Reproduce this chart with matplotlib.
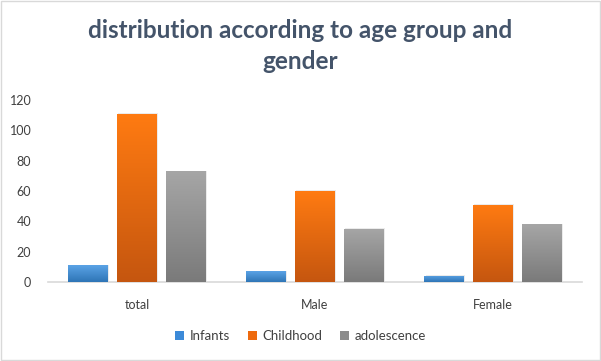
import matplotlib
matplotlib.use("Agg")
import matplotlib.pyplot as plt
import numpy as np
from matplotlib.colors import LinearSegmentedColormap
from matplotlib.patches import Rectangle

categories = ["total", "Male", "Female"]
series_names = ["Infants", "Childhood", "adolescence"]
infants = [11, 7, 4]
childhood = [111, 60, 51]
adolescence = [73, 35, 38]
yticks = [0, 20, 40, 60, 80, 100, 120]

values = [infants, childhood, adolescence]
grads = [("#5BA3E6", "#2E75B6"), ("#FF7B12", "#C5560F"), ("#A6A6A6", "#7A7A7A")]
legend_colors = ["#3C8AD8", "#EE6A0E", "#8C8C8C"]

fig = plt.figure(figsize=(6.01, 3.61), dpi=100)
ax = fig.add_axes([48/601, 1-282/361, (582-48)/601, 182/361])

x = np.arange(len(categories))
offsets = [-0.275, 0.0, 0.275]
width = 0.22
handles = []
for i, (vals, (ctop, cbot)) in enumerate(zip(values, grads)):
    bars = ax.bar(x + offsets[i], vals, width, color="none", edgecolor="none", zorder=3)
    cmap = LinearSegmentedColormap.from_list("g%d" % i, [cbot, ctop])
    for b in bars:
        bx, by, bw, bh = b.get_x(), b.get_y(), b.get_width(), b.get_height()
        ax.add_patch(Rectangle((bx + 0.006, by), bw, bh + 0.4, facecolor="#000000",
                               alpha=0.08, edgecolor="none", zorder=2))
        grad = np.linspace(0, 1, 256).reshape(-1, 1)
        im = ax.imshow(grad, extent=[bx, bx + bw, by, by + bh], origin="lower",
                       aspect="auto", cmap=cmap, zorder=3)
        im.set_clip_path(b)
    handles.append(Rectangle((0, 0), 1, 1, facecolor=legend_colors[i], edgecolor="none"))

ax.set_xlim(-0.5, 2.5)
ax.set_ylim(0, 120)
ax.set_yticks(yticks)
ax.set_xticks(x)
ax.set_xticklabels(categories)
for s in ["top", "right", "left"]:
    ax.spines[s].set_visible(False)
ax.spines["bottom"].set_color("#D9D9D9")
ax.spines["bottom"].set_linewidth(1.2)
ax.tick_params(axis="both", length=0, colors="#404040", labelsize=9)
ax.tick_params(axis="y", pad=12)
ax.tick_params(axis="x", pad=12)
for lab in ax.get_xticklabels() + ax.get_yticklabels():
    lab.set_family("Lato")
    lab.set_color("#404040")

fig.suptitle("distribution according to age group and\ngender", x=0.5, y=1-19/361,
             va="top", fontsize=17.5, color="#44546A", family="Lato", weight="bold",
             linespacing=1.42)

leg = fig.legend(handles, series_names, loc="center", bbox_to_anchor=(0.5, 1-336/361),
                 ncol=3, frameon=False, handlelength=0.65, handleheight=0.65,
                 handletextpad=0.4, columnspacing=1.4, prop={"family": "Lato", "size": 9.5})
for t in leg.get_texts():
    t.set_color("#404040")

fig.patches.append(Rectangle((0.001, 0.002), 0.997, 0.996, transform=fig.transFigure,
                             fill=False, edgecolor="#D9D9D9", linewidth=1))

fig.savefig("out.png", dpi=100)
